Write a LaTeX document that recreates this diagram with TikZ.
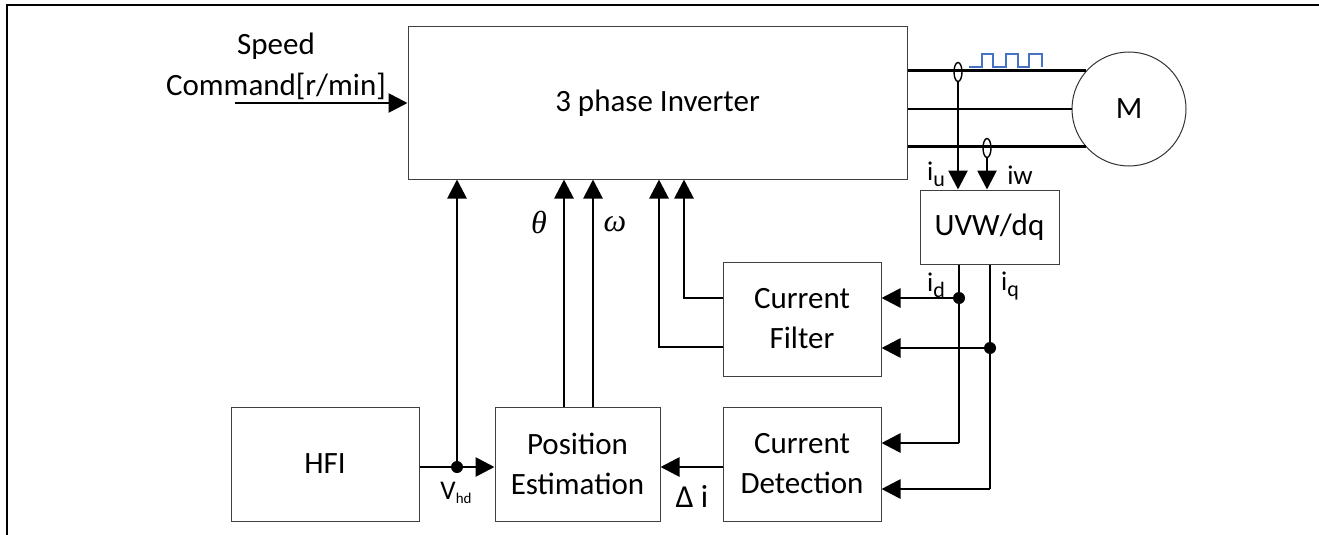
\documentclass[tikz,border=0pt]{standalone}
\usepackage{fontspec}
\setmainfont{Carlito}
\newfontfamily\grkfont{Liberation Serif}
\usetikzlibrary{arrows.meta,shapes.geometric,calc}
\definecolor{wave}{RGB}{68,114,196}
\newcommand\lblsub[1]{\raisebox{-0.22em}{\fontsize{22}{22}\selectfont #1}}
\newcommand\tinysub[1]{\raisebox{-0.15em}{\fontsize{15}{15}\selectfont #1}}
\begin{document}
\begin{tikzpicture}[x=1pt,y=-1pt,
  blk/.style={draw=black!75,line width=1pt,inner sep=0pt,align=center,font=\fontsize{31}{40}\selectfont},
  wire/.style={line width=2.8pt},
  arr/.style={line width=2.8pt,-{Triangle[length=19pt,width=19pt]}},
  lbl/.style={inner sep=0pt,font=\fontsize{27}{30}\selectfont},
  glbl/.style={inner sep=0pt,font=\grkfont\itshape\fontsize{32}{34}\selectfont},
  dotn/.style={circle,fill=black,inner sep=0pt,minimum size=12pt},
  sens/.style={ellipse,draw,line width=1.4pt,inner sep=0pt,minimum width=8pt,minimum height=19pt}]
\useasboundingbox (0,0) rectangle (1319,535);
% frame
\draw[line width=2.6pt] (7,535) -- (7,5) -- (1319,5);
% blocks
\node[blk,minimum width=499pt,minimum height=152pt] (inv) at (657.5,103) {3 phase Inverter};
\node[blk,minimum width=139pt,minimum height=74pt] (uvw) at (989.5,227) {UVW/dq};
\node[blk,minimum width=158pt,minimum height=114pt] (cf) at (802,319) {Current\\Filter};
\node[blk,minimum width=158pt,minimum height=114pt] (cd) at (802,464) {Current\\Detection};
\node[blk,minimum width=165pt,minimum height=114pt] (pe) at (577.5,464) {Position\\Estimation};
\node[blk,minimum width=188pt,minimum height=114pt] (hfi) at (325,464) {HFI};
\node[circle,draw=black!80,line width=1pt,minimum size=114pt,inner sep=0pt,font=\fontsize{31}{40}\selectfont] (M) at (1129,109) {M};
% speed command
\node[inner sep=0pt,align=center,font=\fontsize{31}{41}\selectfont] (spdtxt) at (276,66) {Speed\\Command[r/min]};
\coordinate (spd) at (235,103);
\draw[arr] (spd) -- (inv.west |- spd);
% phase lines
\draw[wire] (inv.east |- M.138.2) -- (M.138.2);
\draw[wire] (inv.east |- M.west) -- (M.west);
\draw[wire] (inv.east |- M.221.8) -- (M.221.8);
% current sensors
\node[sens] (s1) at (958,72) {};
\node[sens] (s2) at (987,148) {};
\draw[arr] (s1.south) -- (s1.south |- uvw.north);
\draw[arr] (s2.south) -- (s2.south |- uvw.north);
\node[lbl] (lu) at (936,174) {i\lblsub{u}};
\node[lbl] (lw) at (1020,175) {iw};
% square wave
\draw[wave,line width=1.4pt] (969,67) -- (982,67) -- (982,54) -- (993,54) -- (993,67) -- (1006,67) -- (1006,54) -- (1018,54) -- (1018,67) -- (1029,67) -- (1029,54) -- (1042,54) -- (1042,67);
% id / iq
\coordinate (d1) at (959,298);
\coordinate (d2) at (959,443);
\coordinate (q1) at (990,348);
\coordinate (q2) at (990,489);
\draw[wire] (uvw.south -| d1) -- (d2);
\draw[wire] (uvw.south -| q1) -- (q2);
\draw[arr] (d2) -- (d2 -| cd.east);
\draw[arr] (q2) -- (q2 -| cd.east);
\draw[arr] (d1) -- (d1 -| cf.east);
\draw[arr] (q1) -- (q1 -| cf.east);
\node[dotn] (dd) at (d1) {};
\node[dotn] (dq) at (q1) {};
\node[lbl] (ld) at (936,285) {i\lblsub{d}};
\node[lbl] (lq) at (1010,286) {i\lblsub{q}};
% current filter outputs
\coordinate (c1) at (684,298);
\coordinate (c2) at (659,347);
\draw[arr] (cf.west |- c1) -- (c1) -- (c1 |- inv.south);
\draw[arr] (cf.west |- c2) -- (c2) -- (c2 |- inv.south);
% theta / omega
\coordinate (th) at (564,0);
\coordinate (om) at (593,0);
\draw[arr] (pe.north -| th) -- (th |- inv.south);
\draw[arr] (pe.north -| om) -- (om |- inv.south);
\node[glbl] (lth) at (539,222) {θ};
\node[glbl] (lom) at (615,224) {ω};
% HFI
\coordinate (h) at (457,467);
\draw[wire] (hfi.east |- h) -- (h);
\draw[arr] (h) -- (h -| pe.west);
\draw[arr] (h) -- (h |- inv.south);
\node[dotn] (hd) at (h) {};
\node[lbl] (lv) at (456,493) {V\tinysub{hd}};
% current detection -> position estimation
\coordinate (e) at (723,467);
\draw[arr] (e) -- (e -| pe.east);
\node[lbl,font=\fontsize{32}{34}\selectfont] (ldi) at (692,496) {Δ i};
\end{tikzpicture}
\end{document}
